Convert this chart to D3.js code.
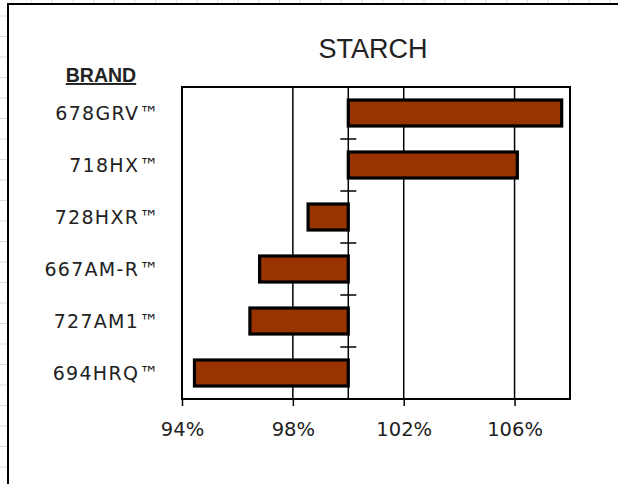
<!DOCTYPE html>
<html>
<head>
<meta charset="utf-8">
<script src="https://cdn.jsdelivr.net/npm/d3@7"></script>
<style>
  html, body { margin: 0; padding: 0; background: #fff; }
  svg { display: block; }
</style>
</head>
<body>
<svg id="chart" width="618" height="484"></svg>
<script>
// ---- data ----
const title = "STARCH";
const axisTitle = "BRAND";
const categories = ["678GRV™", "718HX™", "728HXR™", "667AM-R™", "727AM1™", "694HRQ™"];
const values = [1.077, 1.061, 0.9855, 0.968, 0.9645, 0.9445];
const tickValues = [0.94, 0.98, 1.02, 1.06];
const tickLabels = ["94%", "98%", "102%", "106%"];
const gridValues = [0.98, 1.00, 1.02, 1.06];
const baseValue = 1.00;
const xDomain = [0.94, 1.08];

const svg = d3.select("#chart");
const W = 618, H = 484;

// spreadsheet background grid outside the chart frame
const sheet = svg.append("g").attr("stroke", "#dcdcdc").attr("stroke-width", 1);
d3.range(31.7, W, 20.65).forEach(x => {
  sheet.append("line").attr("x1", x).attr("x2", x).attr("y1", 0).attr("y2", 3);
});
d3.range(16, H, 20.5).forEach(y => {
  sheet.append("line").attr("x1", 0).attr("x2", 7).attr("y1", y).attr("y2", y);
});

// chart frame (left and top edges visible)
svg.append("path")
  .attr("d", `M8,${H} L8,4 L${W},4`)
  .attr("fill", "none").attr("stroke", "#000").attr("stroke-width", 2);

const plot = { left: 182, right: 570, top: 87, bottom: 399 };

const x = d3.scaleLinear().domain(xDomain).range([plot.left, plot.right]);
const y = d3.scaleBand().domain(categories).range([plot.top, plot.bottom])
  .paddingInner(0.5).paddingOuter(0.25);

// gridlines
svg.append("g").selectAll("line").data(gridValues).join("line")
  .attr("x1", d => x(d)).attr("x2", d => x(d))
  .attr("y1", plot.top).attr("y2", plot.bottom)
  .attr("stroke", "#000").attr("stroke-width", 1.5);

// plot border
svg.append("rect")
  .attr("x", plot.left).attr("y", plot.top)
  .attr("width", plot.right - plot.left).attr("height", plot.bottom - plot.top)
  .attr("fill", "none").attr("stroke", "#000").attr("stroke-width", 2);

// bars
svg.append("g").selectAll("rect").data(categories).join("rect")
  .attr("x", (d, i) => Math.min(x(values[i]), x(baseValue)))
  .attr("width", (d, i) => Math.abs(x(values[i]) - x(baseValue)))
  .attr("y", d => y(d))
  .attr("height", y.bandwidth())
  .attr("fill", "#993300")
  .attr("stroke", "#000").attr("stroke-width", 3.2);

// category axis crossing at 100%, with cross ticks between categories
const catAxis = svg.append("g");
const boundaries = categories.slice(1).map(c => y(c) - y.step() * y.paddingInner() / 2);
catAxis.selectAll("line.tk").data(boundaries).join("line")
  .attr("class", "tk")
  .attr("x1", x(baseValue) - 8).attr("x2", x(baseValue) + 8)
  .attr("y1", d => d).attr("y2", d => d)
  .attr("stroke", "#000").attr("stroke-width", 1.5);

// value axis ticks and labels
const xAxis = d3.axisBottom(x).tickValues(tickValues)
  .tickFormat((d, i) => tickLabels[i]).tickSize(7).tickPadding(0);
const gx = svg.append("g").attr("transform", `translate(0,${plot.bottom})`).call(xAxis);
gx.select(".domain").remove();
gx.selectAll(".tick line").attr("stroke", "#000").attr("stroke-width", 1.5);
gx.selectAll(".tick text")
  .attr("y", 37).attr("dy", null)
  .attr("fill", "#222")
  .style("font-family", "'DejaVu Sans', sans-serif")
  .style("font-size", "19.5px");

// category labels
svg.append("g").selectAll("text").data(categories).join("text")
  .attr("x", 159.5)
  .attr("y", d => y(d) + y.bandwidth() / 2 + 7)
  .attr("text-anchor", "end")
  .attr("fill", "#222")
  .style("font-family", "'DejaVu Sans', sans-serif")
  .style("font-size", "19px")
  .style("letter-spacing", "1.3px")
  .text(d => d);

// axis title (BRAND)
svg.append("text")
  .attr("x", 101).attr("y", 82)
  .attr("text-anchor", "middle")
  .attr("fill", "#222")
  .style("font-family", "'Liberation Sans', Arial, sans-serif")
  .style("font-weight", "bold")
  .style("font-size", "19.5px")
  .style("text-decoration", "underline")
  .text(axisTitle);

// chart title
svg.append("text")
  .attr("x", 373).attr("y", 58)
  .attr("text-anchor", "middle")
  .attr("fill", "#222")
  .style("font-family", "'Liberation Sans', Arial, sans-serif")
  .style("font-size", "27px")
  .text(title);
</script>
</body>
</html>
